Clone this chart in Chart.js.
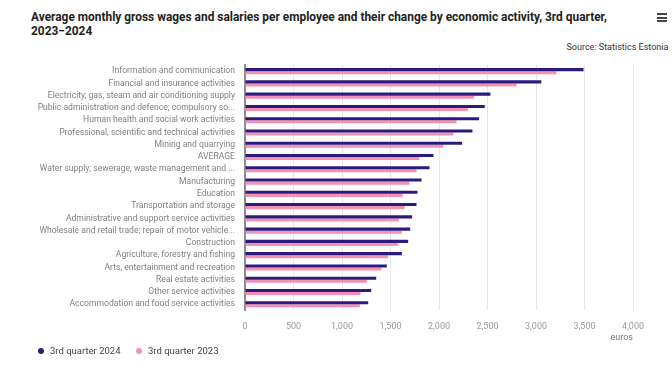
<!DOCTYPE html>
<html>
<head>
<meta charset="utf-8">
<script src="https://cdn.jsdelivr.net/npm/chart.js@4"></script>
<style>
  html, body { margin: 0; padding: 0; background: #fff; }
  body { width: 672px; height: 377px; position: relative; overflow: hidden; font-family: Roboto, sans-serif; }
  #titulo { position: absolute; left: 31px; top: 10px; font-weight: bold; font-size: 12.5px; line-height: 14px; color: #222; transform-origin: 0 0; white-space: nowrap; }
  #fonte { position: absolute; right: 4px; top: 41px; font-size: 9.5px; color: #333; transform-origin: 100% 0; white-space: nowrap; }
  #menu { position: absolute; left: 657px; top: 13px; width: 10px; }
  #menu div { height: 2px; background: #444; margin-bottom: 1.5px; }
  #grafico { position: absolute; left: 0; top: 0; }
  .legenda { position: absolute; top: 345px; font-size: 9.5px; line-height: 12px; color: #444; white-space: nowrap; }
  .legenda span { position: absolute; left: -12px; top: 3px; width: 6px; height: 6px; border-radius: 50%; }
</style>
</head>
<body>
<div id="titulo">Average monthly gross wages and salaries per employee and their change by economic activity, 3rd quarter,<br>2023−2024</div>
<div id="fonte">Source: Statistics Estonia</div>
<div id="menu"><div></div><div></div><div></div></div>
<canvas id="grafico" width="672" height="377"></canvas>
<div class="legenda" id="legenda0" style="left:50px"><span></span></div>
<div class="legenda" id="legenda1" style="left:148px"><span></span></div>
<script>
const atividades = [
  "Information and communication",
  "Financial and insurance activities",
  "Electricity, gas, steam and air conditioning supply",
  "Public administration and defence; compulsory so...",
  "Human health and social work activities",
  "Professional, scientific and technical activities",
  "Mining and quarrying",
  "AVERAGE",
  "Water supply; sewerage, waste management and ...",
  "Manufacturing",
  "Education",
  "Transportation and storage",
  "Administrative and support service activities",
  "Wholesale and retail trade; repair of motor vehicle...",
  "Construction",
  "Agriculture, forestry and fishing",
  "Arts, entertainment and recreation",
  "Real estate activities",
  "Other service activities",
  "Accommodation and food service activities"
];

const salarios2024 = [3490, 3055, 2530, 2472, 2413, 2345, 2238, 1943, 1902, 1820, 1778, 1768, 1723, 1703, 1682, 1617, 1462, 1353, 1301, 1270];
const salarios2023 = [3210, 2798, 2362, 2297, 2180, 2149, 2046, 1799, 1768, 1696, 1624, 1645, 1586, 1617, 1579, 1476, 1404, 1256, 1191, 1184];

const nomesSeries = ["3rd quarter 2024", "3rd quarter 2023"];
const coresSeries = ["#2e1a7e", "#f391b3"];
const marcasEixo = [0, 500, 1000, 1500, 2000, 2500, 3000, 3500, 4000];

function ajustarLargura(id, largura) {
  const el = document.getElementById(id);
  if (!el) return;
  const atual = el.getBoundingClientRect().width;
  if (atual > 0) el.style.transform = "scaleX(" + (largura / atual) + ")";
}

function montarLegenda() {
  nomesSeries.forEach((nome, i) => {
    const item = document.getElementById("legenda" + i);
    if (!item) return;
    item.appendChild(document.createTextNode(nome));
    item.querySelector("span").style.background = coresSeries[i];
  });
}

ajustarLargura("titulo", 576);
ajustarLargura("fonte", 102);
montarLegenda();

Chart.defaults.font.family = "Roboto, sans-serif";

new Chart(document.getElementById("grafico"), {
  type: "bar",
  data: {
    labels: atividades,
    datasets: nomesSeries.map((nome, i) => ({
      label: nome,
      data: i === 0 ? salarios2024 : salarios2023,
      backgroundColor: coresSeries[i],
      categoryPercentage: 0.5,
      barPercentage: 1
    }))
  },
  options: {
    indexAxis: "y",
    responsive: false,
    animation: false,
    layout: {
      padding: { top: 65, left: 25, right: 39, bottom: 34 }
    },
    scales: {
      x: {
        min: 0,
        max: 4000,
        afterBuildTicks: escala => {
          escala.ticks = marcasEixo.map(v => ({ value: v }));
        },
        ticks: {
          color: "#999",
          font: { size: 9 },
          padding: 11,
          callback: v => v.toLocaleString("en-US")
        },
        grid: {
          color: "#e6e6e6",
          drawTicks: false
        },
        border: { display: false },
        title: {
          display: true,
          text: "euros",
          align: "end",
          color: "#777",
          font: { size: 9 },
          padding: { top: -11, bottom: 0 }
        }
      },
      y: {
        afterFit: escala => {
          escala.width = 220;
        },
        ticks: {
          color: "#808080",
          font: { size: 8.6 },
          padding: 10,
          autoSkip: false
        },
        grid: { display: false, drawTicks: false },
        border: { display: true, color: "#8c8c8c", width: 2 }
      }
    },
    plugins: {
      legend: { display: false },
      tooltip: { enabled: false }
    }
  }
});
</script>
</body>
</html>
